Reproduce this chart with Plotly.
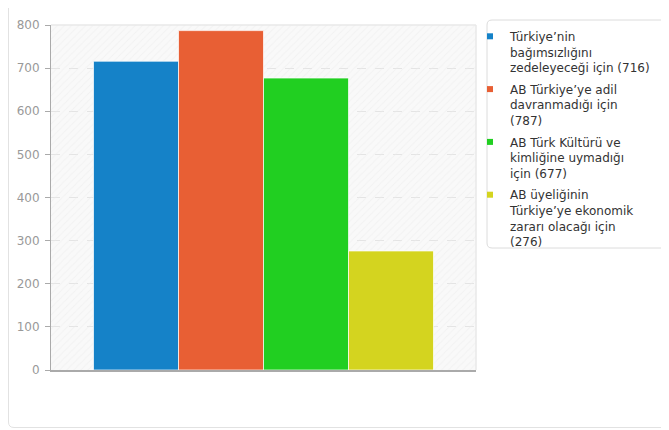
import plotly.graph_objects as go

series_names = [
    "Türkiye’nin<br>bağımsızlığını<br>zedeleyeceği için (716)",
    "AB Türkiye’ye adil<br>davranmadığı için<br>(787)",
    "AB Türk Kültürü ve<br>kimliğine uymadığı<br>için (677)",
    "AB üyeliğinin<br>Türkiye’ye ekonomik<br>zararı olacağı için<br>(276)",
]
series_values = [716, 787, 677, 276]
series_colors = ["#1582c8", "#e85f34", "#21cf21", "#d4d41f"]
y_ticks = [0, 100, 200, 300, 400, 500, 600, 700, 800]

# page has an 8px body margin, so the figure is 8px smaller than the window
W, H = 661, 422
L, R, T, B = 43, 193, 17, 60
pw, ph = W - L - R, H - T - B

def px(x):
    return (x - L) / pw

def py(y):
    return (H - B - y) / ph

n = len(series_values)
bar_w = 0.8 / n

fig = go.Figure()
# hatched plot background
fig.add_trace(go.Bar(
    x=[0], y=[y_ticks[-1]], width=1, showlegend=False, hoverinfo="skip",
    marker=dict(color="rgba(0,0,0,0)", line=dict(width=0),
                pattern=dict(shape="/", fgcolor="#ebebeb", bgcolor="rgba(0,0,0,0)",
                             size=5, solidity=0.2, fillmode="overlay")),
))
for i, (name, v, c) in enumerate(zip(series_names, series_values, series_colors)):
    fig.add_trace(go.Bar(
        x=[0], y=[v], name=name, width=bar_w, offset=-0.4 + i * bar_w,
        showlegend=False, legendgroup=str(i),
        marker=dict(color=c, line=dict(color="rgba(255,255,255,0.7)", width=1)),
    ))
for i, (name, c) in enumerate(zip(series_names, series_colors)):
    fig.add_trace(go.Scatter(
        x=[None], y=[None], name=name, mode="markers", legendgroup=str(i),
        marker=dict(symbol="square", size=6, color=c),
    ))

# legend box drawn as rounded rectangle
bx0, bx1, by0, by1, r = 479, 659, 12, 240, 5
box_path = (
    f"M {px(bx0 + r)},{py(by0)} L {px(bx1 - r)},{py(by0)} "
    f"Q {px(bx1)},{py(by0)} {px(bx1)},{py(by0 + r)} L {px(bx1)},{py(by1 - r)} "
    f"Q {px(bx1)},{py(by1)} {px(bx1 - r)},{py(by1)} L {px(bx0 + r)},{py(by1)} "
    f"Q {px(bx0)},{py(by1)} {px(bx0)},{py(by1 - r)} L {px(bx0)},{py(by0 + r)} "
    f"Q {px(bx0)},{py(by0)} {px(bx0 + r)},{py(by0)} Z"
)
card_path = (
    f"M {px(700)},{py(419.5)} L {px(6)},{py(419.5)} Q {px(0.5)},{py(419.5)} {px(0.5)},{py(414)} "
    f"L {px(0.5)},{py(-1)}"
)

fig.update_layout(
    width=W, height=H,
    margin=dict(l=L, r=R, t=T, b=B, autoexpand=False),
    paper_bgcolor="white",
    plot_bgcolor="#f9f9f9",
    barmode="overlay",
    font=dict(family="DejaVu Sans", size=12, color="#333"),
    showlegend=True,
    legend=dict(
        x=px(462), y=py(14), xanchor="left", yanchor="top", valign="top",
        bgcolor="rgba(0,0,0,0)", borderwidth=0,
        font=dict(size=12, color="#333"),
        tracegroupgap=3, itemwidth=30, maxheight=1000,
    ),
    xaxis=dict(range=[-0.5, 0.5], showticklabels=False, showline=True, linecolor="#aaaaaa",
               linewidth=1.5, ticks="", showgrid=False, zeroline=False),
    yaxis=dict(range=[0, y_ticks[-1]], tickvals=y_ticks, showline=True, linecolor="#aaaaaa",
               linewidth=1, ticks="outside", ticklen=5, tickcolor="#aaaaaa",
               tickfont=dict(color="#999999", size=12), ticklabelstandoff=3,
               showgrid=True, gridcolor="#e4e4e4", griddash="dash", gridwidth=1,
               zeroline=False),
    shapes=[
        dict(type="path", xref="paper", yref="paper", path=card_path,
             line=dict(color="#e2e2e2", width=1), layer="below"),
        dict(type="path", xref="paper", yref="paper", path=box_path,
             line=dict(color="#dcdcdc", width=1), fillcolor="white", layer="below"),
        dict(type="line", xref="paper", yref="paper", x0=0, x1=1, y0=1, y1=1,
             line=dict(color="#e8e8e8", width=1.5)),
        dict(type="line", xref="paper", yref="paper", x0=1, x1=1, y0=0, y1=1,
             line=dict(color="#e8e8e8", width=1.5)),
    ],
)

fig.write_html("out.html")
